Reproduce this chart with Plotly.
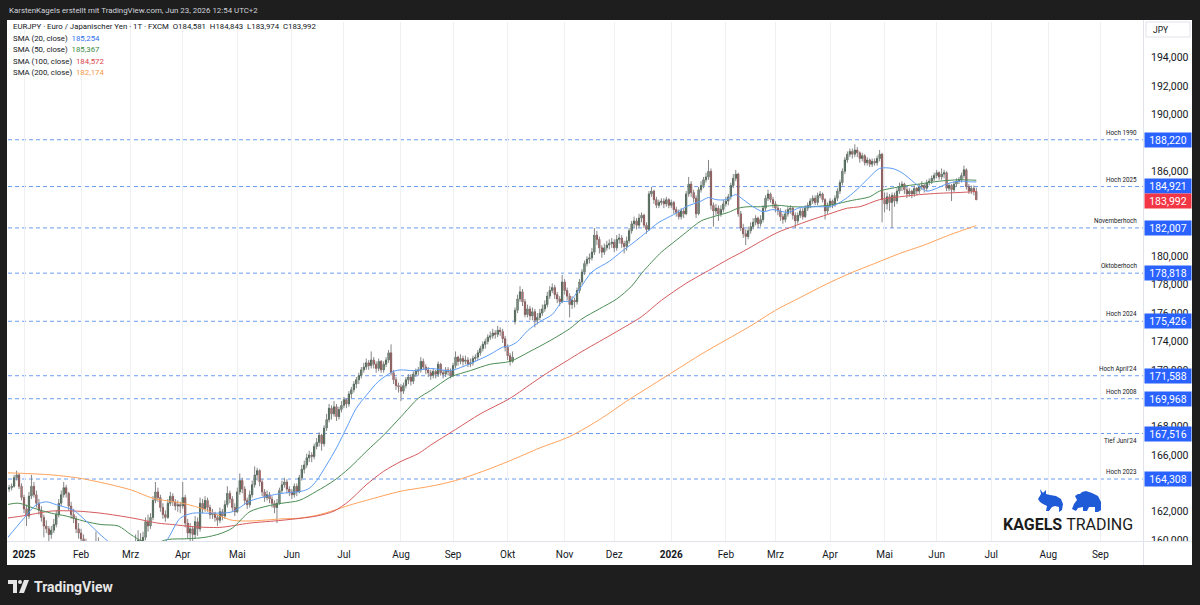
import pandas as pd
import plotly.graph_objects as go

# ---------------- data (daily EURJPY bars) ----------------
opens = [
163.3,163.6,163.7,163.8,164.4, 164.6,163.8,163.0,162.2,161.7, 163.1,163.8,163.2,162.6,162.1, 161.6,161.0,160.8,160.4,160.7,
161.1,161.8,162.6,163.2,163.7, 163.3,162.4,161.8,161.5,160.8, 160.5,160.1,159.8,159.4,158.6, 158.2,158.9,159.6,159.2,158.5,
157.9,158.4,158.9,158.0,157.5, 157.0,156.8,156.2,156.5,155.8, 155.9,157.2,158.4,159.7,160.0, 159.8,160.2,161.3,161.0,161.6,
162.8,163.4,163.0,162.3,161.8, 161.6,162.6,163.1,162.7,162.4, 162.5,162.4,163.0,161.2,160.5, 160.8,160.4,161.3,160.8,162.6,
162.2,162.8,162.3,161.8,161.9, 161.6,161.4,162.0,161.7,162.5, 163.3,162.9,162.3,162.0,163.4, 164.2,163.6,162.8,162.5,163.2,
163.9,164.6,164.9,164.1,163.4, 163.0,163.2,162.9,162.6,162.3, 162.6,163.5,163.9,164.1,163.6, 163.4,163.2,163.8,163.4,164.4,
165.0,165.3,165.8,166.0,165.9, 166.6,166.9,167.4,166.8,167.9, 168.5,169.3,168.9,169.4,168.7, 169.2,169.5,169.9,169.6,170.3,
170.6,171.0,171.3,171.6,172.0, 172.2,172.5,172.3,172.7,172.4, 172.1,172.6,172.0,172.4,172.7, 173.2,171.8,171.3,170.9,170.8,
170.5,170.9,171.3,171.5,171.2, 171.7,171.9,172.0,172.6,172.2, 172.0,171.8,171.6,171.9,171.7, 172.4,171.8,171.7,172.0,171.9,
171.6,172.3,172.9,172.6,172.8, 172.6,172.7,172.4,172.5,172.8, 172.9,173.2,173.5,173.8,174.0, 174.3,174.4,174.6,174.5,174.8,
174.7,174.2,173.6,173.0,172.6, 175.4,176.2,177.0,177.5,176.8, 175.9,176.3,175.8,176.1,175.5, 175.7,176.0,176.3,176.6,177.2,
177.6,177.8,177.3,177.0,176.8, 178.2,177.6,177.2,176.6,176.9, 176.8,177.6,178.2,178.9,179.5, 179.8,179.9,180.3,181.5,181.2,
180.6,180.3,180.6,180.8,180.9, 181.0,180.6,181.2,181.3,180.9, 180.7,181.1,181.8,182.3,182.5, 182.2,182.7,182.9,182.2,181.9,
184.4,184.6,184.0,183.6,183.8, 183.9,183.7,184.0,183.6,183.8, 183.3,183.1,182.8,183.2,183.0, 184.4,185.1,184.5,184.1,183.0,
184.7,185.0,185.4,185.6,186.0, 183.6,183.2,183.4,183.0,183.3, 183.7,183.9,184.2,185.0,185.5, 185.8,183.0,182.0,181.6,181.4,
181.8,182.1,182.4,182.7,182.3, 182.6,183.4,184.1,184.4,184.0, 183.7,183.4,183.2,182.8,182.6, 183.0,183.3,183.4,182.9,182.5,
182.9,183.2,182.8,183.4,183.6, 183.9,184.1,183.8,184.3,184.4, 184.0,183.2,183.6,183.9,183.7, 184.1,184.6,185.2,186.0,186.8,
187.2,187.4,187.2,187.5,187.3, 186.9,187.1,186.6,186.8,186.5, 186.7,186.6,186.9,187.2,184.0, 183.7,184.2,183.8,184.3,183.9,
184.6,184.9,185.1,184.7,184.4, 184.6,184.4,184.8,184.6,184.9, 185.0,184.8,185.2,185.3,185.5, 185.7,185.9,185.6,185.8,185.9,
184.8,185.0,184.7,185.1,185.3, 185.4,185.7,186.1,184.9,184.6, 184.8,184.581]

highs = [
163.8,163.9,164.0,164.6,164.9, 164.7,164.0,163.2,162.5,163.4, 164.6,164.1,163.5,162.9,162.4, 161.8,161.4,161.0,161.0,161.5,
162.1,162.9,163.5,164.1,163.9, 163.4,162.7,162.2,161.7,161.2, 160.8,160.4,160.1,159.6,159.0, 159.2,160.6,160.2,159.5,158.8,
158.7,159.3,159.1,158.3,157.8, 157.3,157.0,156.9,156.7,156.3, 157.5,158.7,160.4,160.7,160.5, 160.6,161.6,161.8,161.9,163.1,
164.1,163.7,163.2,162.6,162.1, 162.9,163.4,163.3,162.9,162.8, 162.7,164.1,163.2,161.5,161.2, 161.0,161.7,161.6,163.0,162.9,
163.1,163.0,162.5,162.2,162.0, 161.8,162.3,162.2,162.8,163.8, 163.5,163.1,162.6,163.7,164.7, 164.4,163.8,163.0,163.5,164.2,
165.2,165.1,165.0,164.3,163.6, 163.5,163.4,163.1,162.8,162.9, 163.7,164.2,164.4,164.3,163.8, 163.6,164.0,164.0,164.6,165.3,
165.6,166.1,166.3,166.2,166.8, 167.2,167.6,167.5,168.1,168.9, 169.6,169.5,169.8,169.6,169.4, 169.8,170.1,170.0,170.5,170.8,
171.2,171.5,171.8,172.2,172.5, 172.8,172.7,173.3,172.9,172.6, 172.8,172.7,172.6,172.9,173.4, 173.8,172.0,171.5,171.1,171.0,
171.1,171.5,171.7,171.7,171.9, 172.1,172.2,172.9,172.8,172.4, 172.2,172.0,172.1,172.0,172.6, 172.5,172.0,172.2,172.2,172.1,
172.5,173.3,173.0,173.1,173.0, 173.0,172.9,172.8,173.0,173.1, 173.4,173.7,174.0,174.2,174.5, 174.7,174.9,174.8,175.1,175.0,
174.9,174.4,173.8,173.2,173.3, 176.4,177.3,177.9,177.7,177.0, 176.6,176.5,176.4,176.3,176.0, 176.3,176.6,176.9,177.5,177.9,
178.1,178.0,177.5,177.2,178.7, 178.4,177.8,177.4,177.2,177.1, 177.8,178.4,179.1,179.7,180.0, 180.2,180.6,182.0,181.8,181.4,
180.8,180.9,181.1,181.2,181.3, 181.2,181.5,181.6,181.5,181.1, 181.4,182.0,182.5,182.8,182.7, 183.0,183.1,183.0,182.4,184.6,
184.9,184.7,184.2,184.0,184.1, 184.1,184.2,184.1,184.0,183.9, 183.5,183.3,183.4,183.4,184.6, 185.6,185.3,184.7,184.3,184.9,
185.3,185.6,185.9,186.8,186.2, 183.8,183.7,183.6,183.6,184.0, 184.2,184.4,185.2,185.8,186.1, 185.9,183.2,182.3,181.9,182.1,
182.4,182.7,182.9,182.8,182.9, 183.6,184.3,184.7,184.5,184.2, 183.9,183.6,183.4,183.0,183.3, 183.5,183.6,183.5,183.1,183.1,
183.4,183.4,183.6,183.8,184.1, 184.3,184.3,184.5,184.6,184.5, 184.1,183.8,184.1,184.0,184.3, 184.8,185.4,186.2,187.0,187.4,
187.6,187.6,187.9,187.7,187.4, 187.3,187.2,187.0,186.9,186.9, 186.9,187.1,187.5,187.3,184.5, 184.5,184.4,184.5,184.5,184.8,
185.2,185.3,185.2,184.9,184.8, 184.7,185.0,184.9,185.1,185.3, 185.1,185.4,185.5,185.7,185.9, 186.1,186.0,186.2,186.1,186.0,
185.2,185.1,185.3,185.5,185.6, 185.9,186.4,186.2,185.1,185.0, 185.0,184.843]

lows = [
163.1,163.4,163.5,163.7,164.2, 163.6,162.8,161.9,161.0,161.5, 162.9,163.0,162.3,161.8,161.3, 160.2,160.5,159.9,160.1,160.5,
160.9,161.6,162.4,163.0,163.0, 162.1,161.5,161.2,160.5,160.1, 159.3,159.4,159.0,158.3,157.9, 158.0,158.7,158.9,158.2,157.6,
157.7,158.1,157.7,157.2,156.7, 156.4,155.9,156.0,155.4,155.5, 155.7,157.0,158.2,159.2,159.3, 159.5,160.0,160.6,160.8,161.4,
162.6,162.7,162.0,161.5,161.3, 161.5,162.4,162.4,162.1,162.0, 161.9,162.2,160.9,160.1,159.9, 158.9,160.1,160.3,160.6,161.9,
162.0,162.0,161.5,161.5,161.3, 161.0,161.2,161.4,161.5,162.3, 162.6,162.0,161.7,161.9,163.2, 163.3,162.5,162.2,162.3,163.0,
163.7,164.2,163.8,163.1,162.7, 162.8,162.6,162.3,161.9,161.2, 162.5,163.3,163.7,163.3,163.1, 162.9,163.0,163.1,163.3,164.2,
164.7,165.1,165.5,165.5,165.7, 166.4,166.6,166.3,166.6,167.7, 168.3,168.5,168.7,168.4,168.5, 169.0,169.3,169.3,169.4,170.0,
170.4,170.7,171.0,171.4,171.8, 172.0,172.0,172.1,172.1,171.8, 171.9,171.8,171.8,172.2,172.5, 171.6,171.0,170.6,170.4,169.8,
170.3,170.7,171.0,170.9,171.0, 171.5,171.6,171.8,172.0,171.7, 171.5,171.3,171.4,171.4,171.5, 171.6,171.4,171.5,171.6,171.4,
171.5,172.1,172.3,172.4,172.3, 172.4,172.2,172.2,172.3,172.6, 172.7,173.0,173.3,173.5,173.8, 174.1,174.2,174.2,174.3,174.4,
173.9,173.3,172.7,172.3,172.5, 175.2,176.0,176.8,176.5,175.7, 175.7,175.5,175.5,175.0,175.2, 175.5,175.8,176.1,176.4,177.0,
177.4,177.0,176.7,176.5,176.7, 177.3,176.9,175.7,176.3,176.4, 176.6,177.4,178.0,178.7,179.3, 179.5,179.7,180.1,180.8,180.2,
179.9,180.1,180.4,180.5,180.6, 180.3,180.4,180.9,180.6,180.2, 180.4,180.9,181.6,182.0,181.9, 182.0,182.4,182.0,181.6,181.8,
184.2,183.7,183.4,183.4,183.6, 183.4,183.5,183.4,183.4,183.0, 182.8,182.6,182.6,182.7,182.9, 184.2,184.2,183.8,182.7,182.9,
184.5,184.8,185.2,185.4,183.3, 182.1,182.9,182.5,182.8,183.1, 183.5,183.6,184.0,184.8,185.3, 182.8,181.8,181.3,180.8,181.2,
181.6,181.9,182.2,182.0,182.1, 182.4,183.2,183.9,183.8,183.4, 183.1,182.9,182.5,182.3,182.4, 182.8,183.0,182.6,182.0,182.3,
182.7,182.6,182.7,183.2,183.4, 183.7,183.6,183.6,184.1,183.8, 182.6,183.0,183.4,183.4,183.5, 183.9,184.4,185.0,185.8,186.6,
187.0,186.9,187.0,187.0,186.6, 186.7,186.4,186.4,186.3,186.3, 186.4,186.4,186.7,182.4,183.1, 183.3,183.2,182.0,183.5,183.7,
184.4,184.6,184.4,184.1,184.2, 184.1,184.2,184.3,184.4,184.7, 184.5,184.6,185.0,185.1,185.3, 185.5,185.4,185.4,185.5,184.6,
184.6,183.9,184.5,184.9,185.1, 185.2,185.5,184.7,184.4,184.4, 184.3,183.974]

closes = [
163.6,163.7,163.8,164.4,164.6, 163.8,163.0,162.2,161.7,163.1, 163.8,163.2,162.6,162.1,161.6, 161.0,160.8,160.4,160.7,161.1,
161.8,162.6,163.2,163.7,163.3, 162.4,161.8,161.5,160.8,160.5, 160.1,159.8,159.4,158.6,158.2, 158.9,159.6,159.2,158.5,157.9,
158.4,158.9,158.0,157.5,157.0, 156.8,156.2,156.5,155.8,155.9, 157.2,158.4,159.7,160.0,159.8, 160.2,161.3,161.0,161.6,162.8,
163.4,163.0,162.3,161.8,161.6, 162.6,163.1,162.7,162.4,162.5, 162.4,163.0,161.2,160.5,160.8, 160.4,161.3,160.8,162.6,162.2,
162.8,162.3,161.8,161.9,161.6, 161.4,162.0,161.7,162.5,163.3, 162.9,162.3,162.0,163.4,164.2, 163.6,162.8,162.5,163.2,163.9,
164.6,164.9,164.1,163.4,163.0, 163.2,162.9,162.6,162.3,162.6, 163.5,163.9,164.1,163.6,163.4, 163.2,163.8,163.4,164.4,165.0,
165.3,165.8,166.0,165.9,166.6, 166.9,167.4,166.8,167.9,168.5, 169.3,168.9,169.4,168.7,169.2, 169.5,169.9,169.6,170.3,170.6,
171.0,171.3,171.6,172.0,172.2, 172.5,172.3,172.7,172.4,172.1, 172.6,172.0,172.4,172.7,173.2, 171.8,171.3,170.9,170.8,170.5,
170.9,171.3,171.5,171.2,171.7, 171.9,172.0,172.6,172.2,172.0, 171.8,171.6,171.9,171.7,172.4, 171.8,171.7,172.0,171.9,171.6,
172.3,172.9,172.6,172.8,172.6, 172.7,172.4,172.5,172.8,172.9, 173.2,173.5,173.8,174.0,174.3, 174.4,174.6,174.5,174.8,174.7,
174.2,173.6,173.0,172.6,172.9, 176.2,177.0,177.5,176.8,175.9, 176.3,175.8,176.1,175.5,175.7, 176.0,176.3,176.6,177.2,177.6,
177.8,177.3,177.0,176.8,178.2, 177.6,177.2,176.6,176.9,176.8, 177.6,178.2,178.9,179.5,179.8, 179.9,180.3,181.5,181.2,180.6,
180.3,180.6,180.8,180.9,181.0, 180.6,181.2,181.3,180.9,180.7, 181.1,181.8,182.3,182.5,182.2, 182.7,182.9,182.2,181.9,184.4,
184.6,184.0,183.6,183.8,183.9, 183.7,184.0,183.6,183.8,183.3, 183.1,182.8,183.2,183.0,184.4, 185.1,184.5,184.1,183.0,184.7,
185.0,185.4,185.6,186.0,183.6, 183.2,183.4,183.0,183.3,183.7, 183.9,184.2,185.0,185.5,185.8, 183.0,182.0,181.6,181.4,181.8,
182.1,182.4,182.7,182.3,182.6, 183.4,184.1,184.4,184.0,183.7, 183.4,183.2,182.8,182.6,183.0, 183.3,183.4,182.9,182.5,182.9,
183.2,182.8,183.4,183.6,183.9, 184.1,183.8,184.3,184.4,184.0, 183.2,183.6,183.9,183.7,184.1, 184.6,185.2,186.0,186.8,187.2,
187.4,187.2,187.5,187.3,186.9, 187.1,186.6,186.8,186.5,186.7, 186.6,186.9,187.2,184.0,183.7, 184.2,183.8,184.3,183.9,184.6,
184.9,185.1,184.7,184.4,184.6, 184.4,184.8,184.6,184.9,185.0, 184.8,185.2,185.3,185.5,185.7, 185.9,185.6,185.8,185.9,184.8,
185.0,184.7,185.1,185.3,185.4, 185.7,186.1,184.9,184.6,184.8, 184.581,183.992]

first_bar_date = "2024-12-23"

# moving averages at sample bars (bar index -> value)
sma20_idx = [0,7,12,16,20,27,32,38,41,45,50,56,61,65,70,75,82,91,98,105,111,119,122,125,129,133,137,141,145,150,
             156,159,164,171,179,187,195,200,203,206,210,215,220,224,227,231,236,243,248,253,258,263,269,274,280,
             283,286,290,294,297,301,305,309,315,320,325,333,339,344,348,352,357,361,366,371,375,379,384,389,391]
sma20_val = [160.1,161.55,162.5,162.7,162.5,162.1,161.35,160.35,159.9,159.3,158.6,158.7,159.3,160.1,161.55,161.9,
             161.9,162.0,162.75,163.1,163.3,163.45,163.65,164.2,165.3,166.5,167.9,169.3,170.2,171.2,171.9,172.0,
             171.95,172.1,171.95,172.45,173.1,173.6,173.7,174.0,174.75,175.4,175.9,176.8,176.85,177.7,178.9,179.65,
             180.35,181.0,181.7,182.4,182.95,183.5,183.9,184.15,184.0,184.0,184.35,184.0,183.5,183.15,183.3,183.1,
             183.45,183.5,183.55,184.15,184.9,185.6,186.2,186.2,185.9,185.2,184.6,184.8,185.1,185.3,185.25,185.254]

sma50_idx = [0,5,11,18,24,31,38,45,50,55,60,65,73,80,86,91,98,105,111,118,125,132,138,145,152,159,166,171,179,187,
             195,203,211,219,227,232,239,246,252,256,258,264,269,274,280,285,291,295,299,304,311,317,325,333,341,
             348,352,360,368,376,384,391]
sma50_val = [162.5,162.6,162.25,161.9,161.7,161.35,161.1,161.0,160.4,159.9,159.8,160.05,160.1,160.2,160.45,160.85,
             162.0,162.4,162.6,162.8,163.45,164.2,165.05,166.25,167.4,168.7,170.0,170.55,171.5,171.95,172.4,172.6,
             173.3,174.05,174.9,175.6,176.3,177.0,177.9,178.8,179.2,180.3,181.0,181.7,182.5,182.8,183.1,183.4,
             183.5,183.5,183.6,183.5,183.5,183.65,183.95,184.2,184.6,184.9,185.1,185.3,185.4,185.367]

sma100_idx = [0,8,18,28,38,51,61,67,75,86,98,111,125,132,138,145,152,159,166,171,181,191,203,213,219,226,232,239,
              246,256,264,274,284,291,297,304,311,317,324,331,339,344,352,360,368,376,384,391]
sma100_val = [161.55,161.75,162.05,162.05,161.9,161.55,161.2,161.1,160.95,160.9,161.2,161.4,161.7,162.05,162.75,
              163.9,164.85,165.55,166.1,166.7,167.8,168.9,170.0,171.2,171.9,172.65,173.3,174.0,174.7,175.75,176.9,
              178.1,179.1,179.8,180.35,181.05,181.7,182.1,182.55,182.95,183.4,183.5,184.0,184.2,184.35,184.45,
              184.5,184.572]

sma200_idx = [0,18,30,50,59,71,81,86,91,98,111,118,125,132,138,145,159,171,181,192,203,215,227,240,250,260,270,
              280,290,300,310,320,330,340,350,360,370,380,391]
sma200_val = [164.75,164.6,164.35,163.55,162.95,162.6,162.1,161.7,161.4,161.35,161.5,161.55,161.75,162.1,162.45,
              162.8,163.45,163.8,164.2,164.85,165.6,166.5,167.3,168.6,169.8,170.9,172.0,173.1,174.1,175.1,176.2,
              177.1,178.0,178.8,179.5,180.2,180.8,181.5,182.174]

level_values = [188.220, 184.921, 182.007, 178.818, 175.426, 171.588, 169.968, 167.516, 164.308]
level_names = ["Hoch 1990", "Hoch 2025", "Novemberhoch", "Oktoberhoch", "Hoch 2024",
               "Hoch April'24", "Hoch 2008", "Tief Juni'24", "Hoch 2023"]
level_labels = ["188,220", "184,921", "182,007", "178,818", "175,426", "171,588", "169,968", "167,516", "164,308"]
last_price = 183.992
last_label = "183,992"

month_starts = ["2025-01-01", "2025-02-03", "2025-03-03", "2025-04-01", "2025-05-01", "2025-06-02", "2025-07-01",
                "2025-08-01", "2025-09-01", "2025-10-01", "2025-11-03", "2025-12-01", "2026-01-01", "2026-02-02",
                "2026-03-02", "2026-04-01", "2026-05-01", "2026-06-01", "2026-07-01", "2026-08-03", "2026-09-01"]
month_labels = ["<b>2025</b>", "Feb", "Mrz", "Apr", "Mai", "Jun", "Jul", "Aug", "Sep", "Okt", "Nov", "Dez",
                "<b>2026</b>", "Feb", "Mrz", "Apr", "Mai", "Jun", "Jul", "Aug", "Sep"]

# price-scale labels that the chart shows (the others sit under the coloured price boxes)
price_ticks = [160, 162, 166, 168, 172, 174, 176, 178, 180, 186, 190, 192, 194]
price_tick_labels = ["160,000", "162,000", "166,000", "168,000", "172,000", "174,000", "176,000", "178,000",
                     "180,000", "186,000", "190,000", "192,000", "194,000"]

sma_legend = [("SMA (20, close)", "185,254", "#2f6ff0"), ("SMA (50, close)", "185,367", "#3d8a45"),
              ("SMA (100, close)", "184,572", "#d9434a"), ("SMA (200, close)", "182,174", "#f7973f")]

assert len(opens) == len(highs) == len(lows) == len(closes)

# ---------------- styling ----------------
FONT = "Roboto"
TXT = "#131722"
UP = "#1c4629"
DOWN = "#8c2d2d"
WICK = "#868686"
LEVEL = "#6b9cf2"
BLUEBOX = "#2962ff"
REDBOX = "#f23645"

L, R, T, B = 8, 1143, 22, 541      # plot area in pixels


def px2x(px):
    return (px - L) / (R - L)


def px2y(py):
    return (B - py) / (B - T)


def poly(points):
    return "M " + " L ".join(f"{px2x(x):.5f},{px2y(y):.5f}" for x, y in points) + " Z"


half_day = pd.Timedelta(hours=12)
dates = pd.bdate_range(first_bar_date, periods=len(closes)) + half_day
axis_days = pd.bdate_range(first_bar_date, periods=470) + half_day
x_range = [axis_days[0] + pd.Timedelta(hours=13), axis_days[458] + pd.Timedelta(hours=5)]
tick_dates = [pd.Timestamp(d) + half_day for d in month_starts]

fig = go.Figure()

# wicks
wx, wy = [], []
for d, h, lo in zip(dates, highs, lows):
    wx += [d, d, None]
    wy += [lo, h, None]
fig.add_trace(go.Scatter(x=wx, y=wy, mode="lines", line=dict(color=WICK, width=1), hoverinfo="skip"))

# bodies
body_hi = [max(o, c) for o, c in zip(opens, closes)]
body_lo = [min(o, c) for o, c in zip(opens, closes)]
fig.add_trace(go.Candlestick(
    x=dates, open=opens, high=body_hi, low=body_lo, close=closes,
    increasing=dict(line=dict(color=UP, width=0.8), fillcolor=UP),
    decreasing=dict(line=dict(color=DOWN, width=0.8), fillcolor=DOWN),
    whiskerwidth=0, hoverinfo="skip"))

# moving averages
for idx, val, col in [(sma200_idx, sma200_val, "#ffa35c"), (sma100_idx, sma100_val, "#d65a5c"),
                      (sma50_idx, sma50_val, "#4b8d54"), (sma20_idx, sma20_val, "#5c9cf6")]:
    fig.add_trace(go.Scatter(x=[dates[i] for i in idx], y=val, mode="lines",
                             line=dict(color=col, width=1, shape="spline", smoothing=0.8), hoverinfo="skip"))

shapes = []
annotations = []

# white chart panel on dark page
shapes.append(dict(type="rect", xref="paper", yref="paper", x0=px2x(7), x1=px2x(1192), y0=px2y(565), y1=px2y(20),
                   fillcolor="#ffffff", line=dict(width=0), layer="below"))

# horizontal level lines + labels + price boxes
for v, name, lab in zip(level_values, level_names, level_labels):
    shapes.append(dict(type="line", xref="paper", yref="y", x0=0, x1=1, y0=v, y1=v,
                       line=dict(color=LEVEL, width=1, dash="4px,3px"), layer="below"))
    below = name.startswith("Tief")
    annotations.append(dict(xref="paper", yref="y", x=px2x(1139), y=v, text=name, showarrow=False,
                            xanchor="right", yanchor="top" if below else "bottom", yshift=-1 if below else 1,
                            font=dict(family=FONT, size=6.3, color=TXT)))
for v, lab, col, ys in [(lv, ll, BLUEBOX, 1 if ll == "184,921" else 0) for lv, ll in zip(level_values, level_labels)] + \
        [(last_price, last_label, REDBOX, -1)]:
    annotations.append(dict(xref="paper", yref="y", x=px2x(1144), y=v, text=lab, showarrow=False,
                            xanchor="left", yanchor="middle", yshift=ys, width=46, height=14, borderpad=0,
                            bgcolor=col, align="center", font=dict(family=FONT, size=10.5, color="#ffffff")))

# clip the partly hidden bottom price label, axis borders
shapes.append(dict(type="rect", xref="paper", yref="paper", x0=px2x(1144), x1=px2x(1191), y0=px2y(564),
                   y1=px2y(542), fillcolor="#ffffff", line=dict(width=0), layer="above"))
shapes.append(dict(type="line", xref="paper", yref="paper", x0=px2x(7), x1=px2x(1192), y0=px2y(541.5),
                   y1=px2y(541.5), line=dict(color="#e0e3eb", width=1), layer="above"))
shapes.append(dict(type="line", xref="paper", yref="paper", x0=px2x(1143.5), x1=px2x(1143.5), y0=px2y(565),
                   y1=px2y(20), line=dict(color="#e0e3eb", width=1), layer="above"))

# JPY box
shapes.append(dict(type="rect", xref="paper", yref="paper", x0=px2x(1146), x1=px2x(1190), y0=px2y(37),
                   y1=px2y(22), fillcolor="#ffffff", line=dict(color="#e0e3eb", width=1), layer="above"))
annotations.append(dict(xref="paper", yref="paper", x=px2x(1151), y=px2y(29.5), text="JPY", showarrow=False,
                        xanchor="left", yanchor="middle", font=dict(family=FONT, size=8.5, color=TXT)))

# header / legend texts
annotations.append(dict(xref="paper", yref="paper", x=px2x(7), y=px2y(10),
                        text="KarstenKagels erstellt mit TradingView.com, Jun 23, 2026 12:54 UTC+2",
                        showarrow=False, xanchor="left", yanchor="middle",
                        font=dict(family=FONT, size=7.9, color="#d1d4dc")))
nb = "\u00a0"
annotations.append(dict(xref="paper", yref="paper", x=px2x(11), y=px2y(27),
                        text=f"EURJPY · Euro / Japanischer Yen · 1T · FXCM{nb}{nb}O184,581{nb}{nb}H184,843"
                             f"{nb}{nb}L183,974{nb}{nb}C183,992",
                        showarrow=False, xanchor="left", yanchor="middle",
                        font=dict(family=FONT, size=7.8, color=TXT)))
for i, (name, val, col) in enumerate(sma_legend):
    annotations.append(dict(xref="paper", yref="paper", x=px2x(11), y=px2y(38.5 + 11.4 * i),
                            text=f"{name}{nb}{nb}<span style='color:{col}'>{val}</span>",
                            showarrow=False, xanchor="left", yanchor="middle",
                            font=dict(family=FONT, size=7.8, color=TXT)))

# KAGELS TRADING logo
bull = [(1038, 499), (1041, 494), (1040, 489), (1043, 493), (1046, 490), (1046, 494), (1050, 495), (1056, 496),
        (1061, 499), (1063, 504), (1062, 510), (1059, 512), (1059, 507), (1055, 506), (1052, 507), (1049, 511),
        (1046, 511), (1047, 506), (1043, 504), (1040, 502)]
bear = [(1072, 509), (1074, 504), (1077, 500), (1075, 496), (1078, 494), (1080, 494), (1082, 492), (1086, 491),
        (1092, 493), (1098, 496), (1101, 502), (1101, 510), (1098, 512), (1095, 512), (1095, 507), (1089, 507),
        (1087, 511), (1083, 511), (1083, 507), (1078, 508), (1076, 511)]
for pts in (bull, bear):
    shapes.append(dict(type="path", xref="paper", yref="paper", path=poly(pts), fillcolor="#1f5bd6",
                       line=dict(width=0), layer="above"))
annotations.append(dict(xref="paper", yref="paper", x=px2x(1068), y=px2y(524),
                        text="<b>KAGELS</b>" + nb + "TRADING", showarrow=False, xanchor="center",
                        yanchor="middle", font=dict(family=FONT, size=16, color="#1c1c1c")))

# TradingView footer logo
shapes.append(dict(type="path", xref="paper", yref="paper",
                   path=poly([(8, 580), (17, 580), (17, 593), (13, 593), (13, 584), (8, 584)]),
                   fillcolor="#e6e6e6", line=dict(width=0), layer="above"))
shapes.append(dict(type="circle", xref="paper", yref="paper", x0=px2x(18), x1=px2x(22), y0=px2y(584),
                   y1=px2y(580), fillcolor="#e6e6e6", line=dict(width=0), layer="above"))
shapes.append(dict(type="path", xref="paper", yref="paper",
                   path=poly([(24, 580), (29, 580), (24, 593), (19, 593)]),
                   fillcolor="#e6e6e6", line=dict(width=0), layer="above"))
annotations.append(dict(xref="paper", yref="paper", x=px2x(32), y=px2y(586.5), text="<b>TradingView</b>",
                        showarrow=False, xanchor="left", yanchor="middle",
                        font=dict(family=FONT, size=14, color="#e6e6e6")))

fig.update_layout(
    width=1200, height=605,
    margin=dict(l=L, r=1200 - R, t=T, b=605 - B),
    paper_bgcolor="#1e1e1e", plot_bgcolor="#ffffff",
    showlegend=False, dragmode=False,
    shapes=shapes, annotations=annotations,
    xaxis=dict(type="date", range=x_range, rangebreaks=[dict(bounds=["sat", "mon"])],
               rangeslider=dict(visible=False), tickmode="array", tickvals=tick_dates, ticktext=month_labels,
               showgrid=True, gridcolor="#eef0f4", gridwidth=1, ticks="", zeroline=False, showline=False,
               ticklabelstandoff=6, tickfont=dict(family=FONT, size=10, color=TXT)),
    yaxis=dict(side="right", range=[159.94, 196.52], tickmode="array", tickvals=price_ticks,
               ticktext=price_tick_labels, showgrid=False, ticks="", zeroline=False, showline=False,
               ticklabelstandoff=7, tickfont=dict(family=FONT, size=10.5, color=TXT)),
)

fig.write_html("out.html")
